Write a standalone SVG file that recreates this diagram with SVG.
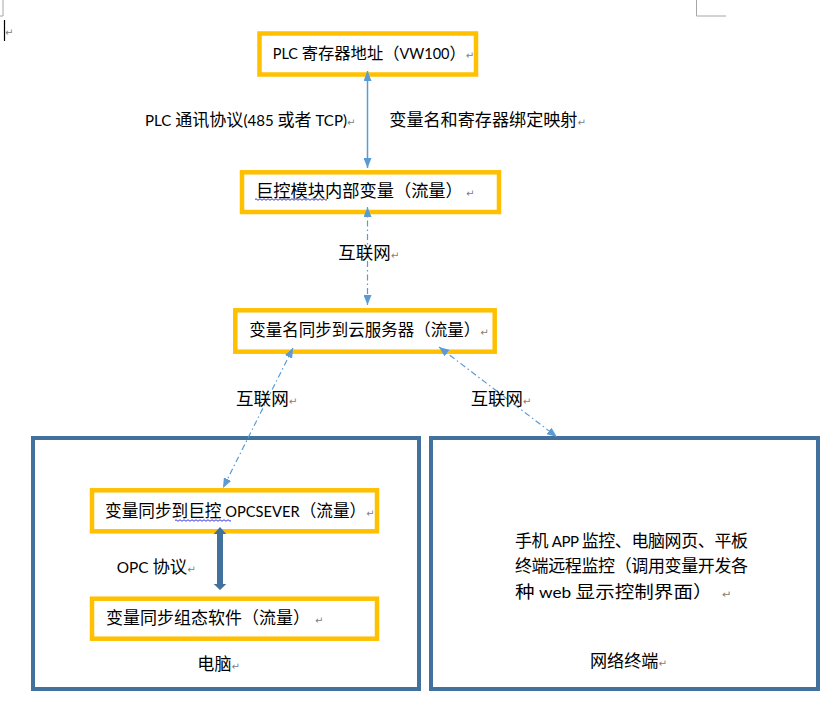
<svg xmlns="http://www.w3.org/2000/svg" width="833" height="711" viewBox="0 0 833 711">
<style>
  .t { font-family: Lato, "Noto Sans CJK SC", sans-serif; font-size: 17px; fill: #000; }
  .lat { font-size: 15px; }
  .pm { font-family: "DejaVu Sans", sans-serif; font-size: 10px; fill: #808080; }
  .ybox { fill: none; stroke: #FFC000; stroke-width: 4.5; }
  .bbox { fill: none; stroke: #41719C; stroke-width: 4; }
  .solid { stroke: #5B9BD5; stroke-width: 1.5; fill: none; }
  .dash { stroke: #5B9BD5; stroke-width: 1.2; fill: none; stroke-dasharray: 6 3 1.5 3; }
  .wave { stroke: #3B3BD8; stroke-width: 1; fill: none; }
  .mark { stroke: #A6A6A6; stroke-width: 1; fill: none; }
</style>
<defs>
  <marker id="ah" viewBox="0 0 10 8" markerUnits="userSpaceOnUse" markerWidth="10" markerHeight="8" refX="10" refY="4" orient="auto-start-reverse">
    <path d="M0,0 L10,4 L0,8 Z" fill="#5B9BD5"/>
  </marker>
</defs>
<rect width="833" height="711" fill="#fff"/>

<g id="page-marks">
  <polyline class="mark" points="3,0 3,16 0,16"/>
  <polyline class="mark" points="696.5,0 696.5,16 726,16"/>
  <line x1="4.5" y1="20" x2="4.5" y2="41" stroke="#000" stroke-width="1.2"/>
  <text class="pm" x="5" y="36">↵</text>
</g>

<g id="group-computer">
  <rect class="bbox" x="33" y="438" width="386" height="251"/>
  <text class="t" x="197.3" y="670" textLength="42.6" lengthAdjust="spacingAndGlyphs">电脑<tspan class="pm">↵</tspan></text>
</g>

<g id="group-terminal">
  <rect class="bbox" x="431" y="438" width="387" height="251"/>
  <text class="t" x="515" y="546.5" textLength="233" lengthAdjust="spacing">手机<tspan class="lat"> APP </tspan>监控、电脑网页、平板</text>
  <text class="t" x="515" y="572" textLength="233" lengthAdjust="spacing">终端远程监控（调用变量开发各</text>
  <text class="t" x="515" y="597.5" textLength="216.4" lengthAdjust="spacingAndGlyphs">种<tspan class="lat"> web </tspan>显示控制界面）<tspan class="pm" dx="8">↵</tspan></text>
  <text class="t" x="590" y="667" textLength="76.9" lengthAdjust="spacingAndGlyphs">网络终端<tspan class="pm">↵</tspan></text>
</g>

<g id="node-plc">
  <rect class="ybox" x="259.5" y="33.5" width="216.5" height="41"/>
  <text class="t" x="272.7" y="59" style="font-size:16.3px"><tspan style="font-size:14.5px">PLC </tspan>寄存器地址（<tspan style="font-size:14.5px">VW100</tspan>）<tspan class="pm">↵</tspan></text>
</g>

<g id="node-module">
  <rect class="ybox" x="242" y="172.3" width="257" height="39.7"/>
  <text class="t" x="256" y="196.5" textLength="218.4" lengthAdjust="spacingAndGlyphs">巨控模块内部变量（流量）<tspan class="pm" dx="3">↵</tspan></text>
  <path class="wave" d="M255,199.5 q1,-1.5 2,0 t2,0 t2,0 t2,0 t2,0 t2,0 t2,0 t2,0 t2,0 t2,0 t2,0 t2,0 t2,0 t2,0 t2,0 t2,0 t2,0 t2,0 t2,0 t2,0 t2,0 t2,0 t2,0 t2,0 t2,0 t2,0 t2,0 t2,0 t2,0 t2,0 t2,0 t2,0 t2,0 t2,0 t2,0 t2,0"/>
</g>

<g id="node-cloud">
  <rect class="ybox" x="235.3" y="310.3" width="259.4" height="41.4"/>
  <text class="t" x="249.3" y="336" style="font-size:16.5px">变量名同步到云服务器（流量）<tspan class="pm">↵</tspan></text>
</g>

<g id="node-opcserver">
  <rect class="ybox" x="92" y="490.3" width="285" height="41"/>
  <text class="t" x="105" y="516.5" textLength="269.4" lengthAdjust="spacingAndGlyphs">变量同步到巨控<tspan class="lat"> OPCSEVER</tspan>（流量）<tspan class="pm">↵</tspan></text>
  <path class="wave" d="M175,520.5 q1,-1.5 2,0 t2,0 t2,0 t2,0 t2,0 t2,0 t2,0 t2,0 t2,0 t2,0 t2,0 t2,0 t2,0 t2,0 t2,0 t2,0 t2,0 t2,0 t2,0 t2,0 t2,0 t2,0 t2,0 t2,0 t2,0 t2,0 t2,0 t2,0"/>
</g>

<g id="node-scada">
  <rect class="ybox" x="92" y="598.7" width="285" height="40"/>
  <text class="t" x="106" y="623.5" textLength="217.4" lengthAdjust="spacingAndGlyphs">变量同步组态软件（流量）<tspan class="pm" dx="5">↵</tspan></text>
</g>

<g id="connectors">
  <line class="solid" x1="367.5" y1="71" x2="367.5" y2="168" marker-start="url(#ah)" marker-end="url(#ah)"/>
  <line class="dash" x1="367.5" y1="207" x2="367.5" y2="305" marker-start="url(#ah)" marker-end="url(#ah)"/>
  <line class="dash" x1="293" y1="348" x2="223" y2="488" marker-start="url(#ah)" marker-end="url(#ah)"/>
  <line class="dash" x1="439" y1="347" x2="557" y2="437" marker-start="url(#ah)" marker-end="url(#ah)"/>
  <path d="M220,527 L226.3,534 L223,534 L223,584 L226.3,584 L220,590 L213.7,584 L217,584 L217,534 L213.7,534 Z" fill="#41719C"/>
  <text class="t" x="145" y="126" textLength="210.4" lengthAdjust="spacingAndGlyphs"><tspan class="lat">PLC </tspan>通讯协议<tspan class="lat">(485 </tspan>或者<tspan class="lat"> TCP)</tspan><tspan class="pm">↵</tspan></text>
  <text class="t" x="389.3" y="126" textLength="196.6" lengthAdjust="spacingAndGlyphs">变量名和寄存器绑定映射<tspan class="pm">↵</tspan></text>
  <text class="t" x="338.3" y="259" textLength="61.1" lengthAdjust="spacingAndGlyphs">互联网<tspan class="pm">↵</tspan></text>
  <text class="t" x="236" y="405" textLength="61.4" lengthAdjust="spacingAndGlyphs">互联网<tspan class="pm">↵</tspan></text>
  <text class="t" x="470.7" y="405" textLength="60.7" lengthAdjust="spacingAndGlyphs">互联网<tspan class="pm">↵</tspan></text>
  <text class="t" x="116.7" y="572.7" textLength="79.2" lengthAdjust="spacingAndGlyphs"><tspan class="lat">OPC </tspan>协议<tspan class="pm">↵</tspan></text>
</g>
</svg>
